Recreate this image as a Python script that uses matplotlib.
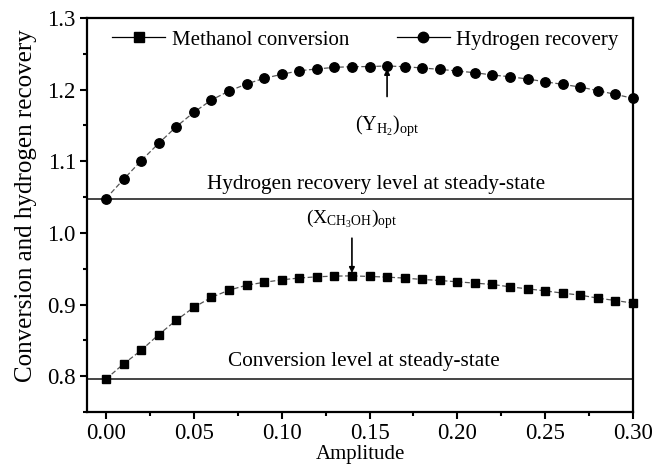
import matplotlib
matplotlib.use("Agg")
import matplotlib.pyplot as plt
from matplotlib.lines import Line2D
from matplotlib.ticker import MultipleLocator

plt.rcParams['font.family'] = ['Liberation Serif', 'DejaVu Serif']
plt.rcParams['mathtext.fontset'] = 'custom'
plt.rcParams['mathtext.rm'] = 'Liberation Serif'
plt.rcParams['mathtext.it'] = 'Liberation Serif:italic'

amplitude = [i / 100 for i in range(31)]
methanol = [0.796, 0.817, 0.836, 0.858, 0.878, 0.896, 0.910, 0.920, 0.927, 0.931,
            0.9345, 0.937, 0.9387, 0.9397, 0.9400, 0.9392, 0.9383, 0.9369, 0.9350, 0.9336,
            0.9317, 0.9299, 0.9280, 0.9247, 0.9219, 0.9191, 0.9159, 0.9131, 0.9089, 0.9056,
            0.9020]
hydrogen = [1.048, 1.0747, 1.1007, 1.1250, 1.1482, 1.1683, 1.1855, 1.1980, 1.2078, 1.2158,
            1.2213, 1.2264, 1.2288, 1.2311, 1.2320, 1.2322, 1.2330, 1.2320, 1.2302, 1.2283,
            1.2260, 1.2236, 1.2204, 1.2180, 1.2148, 1.2110, 1.2073, 1.2036, 1.1985, 1.1934,
            1.1878]
steady_methanol = 0.796
steady_hydrogen = 1.048
opt_methanol_x = 0.14
opt_hydrogen_x = 0.16
xtick_labels = ['0.00', '0.05', '0.10', '0.15', '0.20', '0.25', '0.30']
ytick_labels = ['0.8', '0.9', '1.0', '1.1', '1.2', '1.3']

fig = plt.figure(figsize=(6.56, 4.66), dpi=100)
ax = fig.add_axes([0.1326, 0.1159, 0.965 - 0.1326, 0.9614 - 0.1159])

ax.axhline(steady_hydrogen, color='#444444', lw=1.4, zorder=1)
ax.axhline(steady_methanol, color='#444444', lw=1.4, zorder=1)

ax.plot(amplitude, methanol, linestyle=(0, (4, 2)), color='#555555', lw=0.9,
        marker='s', markersize=6.2, markerfacecolor='black', markeredgecolor='black',
        zorder=3, clip_on=False)
ax.plot(amplitude, hydrogen, linestyle=(0, (4, 2)), color='#555555', lw=0.9,
        marker='o', markersize=6.8, markerfacecolor='black', markeredgecolor='black',
        zorder=3, clip_on=False)

ax.set_xlim(-0.0108, 0.30)
ax.set_ylim(0.75, 1.30)
ax.xaxis.set_minor_locator(MultipleLocator(0.025))
ax.yaxis.set_minor_locator(MultipleLocator(0.05))
ax.set_xticks([float(t) for t in xtick_labels])
ax.set_xticklabels(xtick_labels)
ax.set_yticks([float(t) for t in ytick_labels])
ax.set_yticklabels(ytick_labels)
ax.tick_params(which='major', direction='out', length=5, width=1.5, labelsize=16.5, pad=3)
ax.tick_params(which='minor', direction='out', length=3, width=1.5)
for s in ax.spines.values():
    s.set_linewidth(1.6)

ax.set_xlabel('Amplitude', fontsize=15, labelpad=1)
ax.set_ylabel('Conversion and hydrogen recovery', fontsize=18)
ax.yaxis.set_label_coords(-0.092, 0.525)

handles = [Line2D([], [], color='black', lw=0.9, marker='s', markersize=7),
           Line2D([], [], color='black', lw=0.9, marker='o', markersize=7.5)]
ax.legend(handles, ['Methanol conversion', 'Hydrogen recovery'], ncol=2, frameon=False,
          loc='upper center', bbox_to_anchor=(0.51, 1.012), fontsize=15,
          handlelength=2.55, handletextpad=0.3, columnspacing=2.3, borderpad=0.3)

ax.text(0.1538, 1.067, 'Hydrogen recovery level at steady-state', fontsize=15.3,
        ha='center', va='center')
ax.text(0.147, 0.82, 'Conversion level at steady-state', fontsize=15.3,
        ha='center', va='center')

i_h = amplitude.index(opt_hydrogen_x)
ax.annotate(r'$(\mathrm{Y}_{\mathrm{H}_2})_{\mathrm{opt}}$', xy=(opt_hydrogen_x, hydrogen[i_h] - 0.004),
            xytext=(opt_hydrogen_x, 1.15), fontsize=14.5, ha='center', va='center',
            arrowprops=dict(arrowstyle='-|>', color='black', lw=1.2, mutation_scale=8,
                            shrinkA=10, shrinkB=0))
i_m = amplitude.index(opt_methanol_x)
ax.annotate(r'$(\mathrm{X}_{\mathrm{CH}_3\mathrm{OH}})_{\mathrm{opt}}$', xy=(opt_methanol_x, methanol[i_m] + 0.004),
            xytext=(opt_methanol_x, 1.019), fontsize=14, ha='center', va='center',
            arrowprops=dict(arrowstyle='-|>', color='black', lw=1.2, mutation_scale=8,
                            shrinkA=3, shrinkB=0))

fig.savefig('out.png', dpi=100)
